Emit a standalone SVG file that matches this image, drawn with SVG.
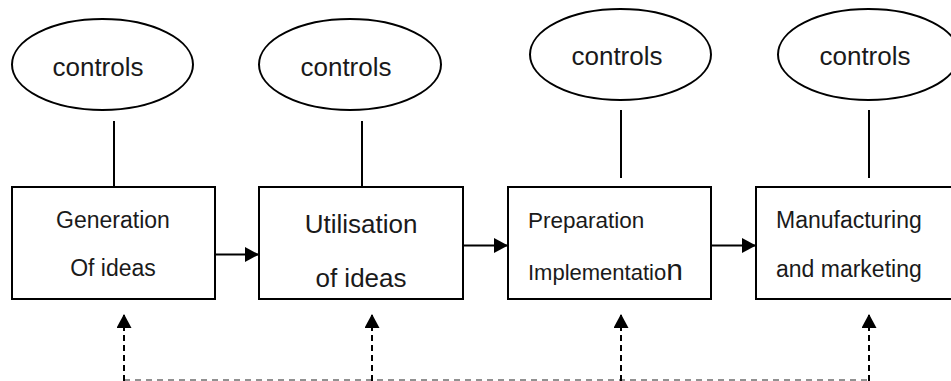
<svg xmlns="http://www.w3.org/2000/svg" width="951" height="381" viewBox="0 0 951 381">
  <style>
    .shape { fill: #ffffff; stroke: #000000; stroke-width: 2; }
    .txt { font-family: "Liberation Sans", Arial, sans-serif; fill: #1a1a1a; }
    .link { stroke: #000000; stroke-width: 2; fill: none; }
    .flow { stroke: #000000; stroke-width: 2; fill: none; marker-end: url(#head); }
    .fb { stroke: #000000; stroke-width: 2; fill: none; stroke-dasharray: 6 4; marker-end: url(#head); }
    .fbline { stroke: #6e6e6e; stroke-width: 1.5; fill: none; stroke-dasharray: 6 5; }
  </style>
  <defs>
    <marker id="head" markerUnits="userSpaceOnUse" markerWidth="14" markerHeight="15" refX="14" refY="7.5" orient="auto">
      <path d="M0,0 L14,7.5 L0,15 Z" fill="#000000"/>
    </marker>
  </defs>
  <rect width="951" height="381" fill="#ffffff"/>

  <!-- control ellipses -->
  <g id="control-1">
    <ellipse class="shape" cx="102.5" cy="64.5" rx="90.5" ry="45.5"/>
    <text class="txt" x="98" y="76" font-size="26" text-anchor="middle">controls</text>
  </g>
  <g id="control-2">
    <ellipse class="shape" cx="350" cy="64.5" rx="91" ry="45.5"/>
    <text class="txt" x="346" y="76" font-size="26" text-anchor="middle">controls</text>
  </g>
  <g id="control-3">
    <ellipse class="shape" cx="620.5" cy="54.5" rx="90.5" ry="45.5"/>
    <text class="txt" x="617" y="65" font-size="26" text-anchor="middle">controls</text>
  </g>
  <g id="control-4">
    <ellipse class="shape" cx="868.5" cy="54.5" rx="90.5" ry="45.5"/>
    <text class="txt" x="865" y="65" font-size="26" text-anchor="middle">controls</text>
  </g>

  <!-- process stages -->
  <g id="stage-1">
    <rect class="shape" x="12" y="187" width="203" height="112"/>
    <text class="txt" x="113" y="228" font-size="23" text-anchor="middle">Generation</text>
    <text class="txt" x="113" y="276" font-size="23" text-anchor="middle">Of ideas</text>
  </g>
  <g id="stage-2">
    <rect class="shape" x="259" y="187" width="204" height="112"/>
    <text class="txt" x="361" y="233" font-size="26" text-anchor="middle">Utilisation</text>
    <text class="txt" x="361" y="287" font-size="26" text-anchor="middle">of ideas</text>
  </g>
  <g id="stage-3">
    <rect class="shape" x="508" y="187" width="203" height="112"/>
    <text class="txt" x="528" y="228" font-size="22.5">Preparation</text>
    <text class="txt" x="528" y="280" font-size="22">Implementatio<tspan font-size="30">n</tspan></text>
  </g>
  <g id="stage-4">
    <rect class="shape" x="756" y="187" width="203" height="112"/>
    <text class="txt" x="776" y="228" font-size="23">Manufacturing</text>
    <text class="txt" x="776" y="277" font-size="23">and marketing</text>
  </g>

  <!-- connectors -->
  <g id="connectors">
    <line class="link" x1="114" y1="121" x2="114" y2="187"/>
    <line class="link" x1="362" y1="121" x2="362" y2="187"/>
    <line class="link" x1="621" y1="110" x2="621" y2="178"/>
    <line class="link" x1="869" y1="110" x2="869" y2="178"/>

    <line class="flow" x1="215" y1="254.5" x2="259" y2="254.5"/>
    <line class="flow" x1="463" y1="245.5" x2="508" y2="245.5"/>
    <line class="flow" x1="711" y1="245.5" x2="756" y2="245.5"/>

    <line class="fbline" x1="124" y1="380" x2="869" y2="380"/>
    <line class="fb" x1="124" y1="381" x2="124" y2="314"/>
    <line class="fb" x1="372" y1="381" x2="372" y2="314"/>
    <line class="fb" x1="621" y1="381" x2="621" y2="314"/>
    <line class="fb" x1="869" y1="381" x2="869" y2="314"/>
  </g>
</svg>
